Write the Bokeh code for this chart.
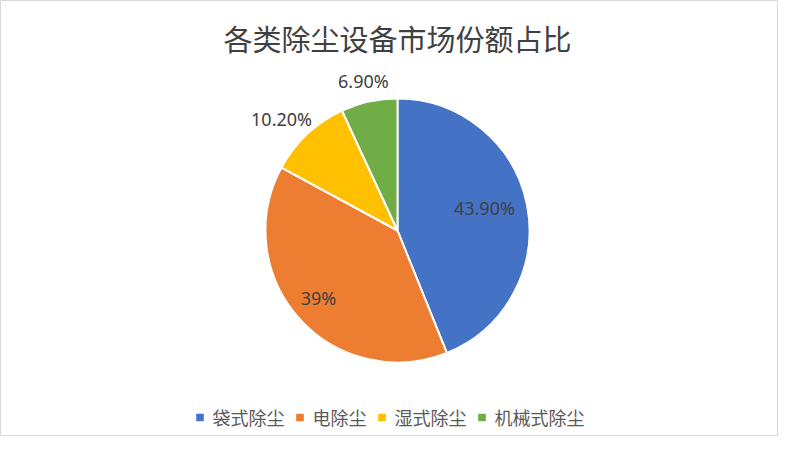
import math
from bokeh.plotting import figure
from bokeh.models import ColumnDataSource, Legend, LegendItem, Range1d
from bokeh.core.properties import value
from bokeh.embed import file_html
from bokeh.resources import INLINE

title_text = "各类除尘设备市场份额占比"
categories = ["袋式除尘", "电除尘", "湿式除尘", "机械式除尘"]
shares = [43.9, 39.0, 10.2, 6.9]
share_labels = ["43.90%", "39%", "10.20%", "6.90%"]
colors = ["#4472C4", "#ED7D31", "#FFC000", "#70AD47"]

W, H = 778, 436
p = figure(width=W, height=H, output_backend="svg", toolbar_location=None,
           x_range=Range1d(0, W), y_range=Range1d(0, H), min_border=0)
p.axis.visible = False
p.grid.visible = False
p.outline_line_color = "#D9D9D9"
p.outline_line_width = 1
p.background_fill_color = "white"

cx, cy, r = 397, 206, 132
total = sum(shares)
starts, ends = [], []
acc = 0.0
for s in shares:
    a0 = math.pi / 2 - 2 * math.pi * acc / total
    acc += s
    a1 = math.pi / 2 - 2 * math.pi * acc / total
    starts.append(a0)
    ends.append(a1)

src = ColumnDataSource(dict(x=[cx] * 4, y=[cy] * 4, start=starts, end=ends,
                            color=colors, cat=categories))
w = p.wedge(x="x", y="y", radius=r, start_angle="start", end_angle="end",
            direction="clock", fill_color="color", line_color="white",
            line_width=2, source=src)

lab_x, lab_y = [], []
radii = [0.68, 0.785, 1.22, 1.165]
shifts = [0.06, -0.025, 0.05, 0.007]
for a0, a1, rf, sh in zip(starts, ends, radii, shifts):
    m = (a0 + a1) / 2 + sh
    lab_x.append(cx + rf * r * math.cos(m))
    lab_y.append(cy + rf * r * math.sin(m))
lsrc = ColumnDataSource(dict(x=lab_x, y=lab_y, t=share_labels))
p.text(x="x", y="y", text="t", source=lsrc, text_align="center",
       text_baseline="middle", text_font=value("Noto Sans"),
       text_font_size="18px", text_color="#404040")

p.text(x=[397], y=[399], text=[title_text], text_align="center",
       text_baseline="middle", text_font=value("Noto Sans CJK SC"),
       text_font_size="29px", text_color="#404040")

items = [LegendItem(label=c, renderers=[w], index=i) for i, c in enumerate(categories)]
legend = Legend(items=items, orientation="horizontal", location="bottom_center",
                glyph_width=12, glyph_height=12, label_standoff=7, spacing=9,
                padding=0, margin=6, border_line_color=None,
                background_fill_alpha=0,
                label_text_font="Noto Sans CJK SC", label_text_font_size="18px",
                label_text_color="#595959", label_height=18)
p.add_layout(legend, "center")

open("out.html", "w").write(file_html(p, INLINE))
